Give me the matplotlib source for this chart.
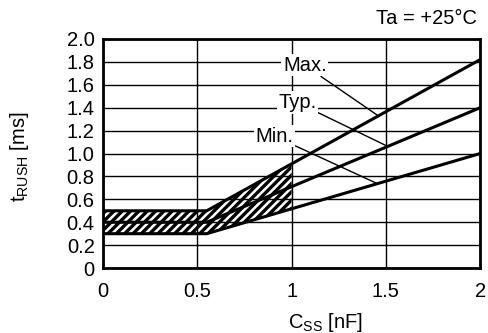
import numpy as np
import matplotlib
matplotlib.use('Agg')
import matplotlib.pyplot as plt

plt.rcParams['font.family'] = ['Liberation Sans', 'DejaVu Sans']
plt.rcParams['mathtext.fontset'] = 'custom'
plt.rcParams['mathtext.rm'] = 'Liberation Sans'
plt.rcParams['hatch.linewidth'] = 2.4

# Rush time vs soft-start capacitor
css_nf = [0, 0.55, 2.0]
t_max = [0.5, 0.5, 1.82]
t_typ = [0.4, 0.4, 1.4]
t_min = [0.3, 0.3, 1.0]

x_ticks = [0, 0.5, 1, 1.5, 2]
x_labels = ['0', '0.5', '1', '1.5', '2']
y_ticks = [0, 0.2, 0.4, 0.6, 0.8, 1.0, 1.2, 1.4, 1.6, 1.8, 2.0]
y_labels = ['0', '0.2', '0.4', '0.6', '0.8', '1.0', '1.2', '1.4', '1.6', '1.8', '2.0']

# hatched band ends at 1 nF
hatch_x = [0, 0.55, 1.0]

# label text and where its leader hits the curve
curve_labels = ['Max.', 'Typ.', 'Min.']
label_pos = [(1.07, 1.77), (1.03, 1.445), (0.91, 1.15)]
pointer_x = [1.46, 1.51, 1.455]

fs = 14.5

fig = plt.figure(figsize=(4.88, 3.33), dpi=100)
ax = fig.add_axes([0.211, 0.195, 0.773, 0.688])

hx = np.array(hatch_x)
h_max = np.interp(hx, css_nf, t_max)
h_typ = np.interp(hx, css_nf, t_typ)
h_min = np.interp(hx, css_nf, t_min)
ax.fill_between(hx, h_typ, h_max, facecolor='none', edgecolor='black', hatch='////', linewidth=0, zorder=1)
ax.fill_between(hx, h_min, h_typ, facecolor='none', edgecolor='black', hatch='////', linewidth=0, zorder=1)

ax.grid(True, color='black', linewidth=1.0, zorder=2)
ax.set_axisbelow(True)

for ys in [t_max, t_typ, t_min]:
    ax.plot(css_nf, ys, color='black', linewidth=2.2, zorder=3, solid_capstyle='butt')

for txt, pos, px, ys in zip(curve_labels, label_pos, pointer_x, [t_max, t_typ, t_min]):
    ax.annotate(txt, xy=(px, np.interp(px, css_nf, ys)), xytext=pos,
                ha='center', va='center', fontsize=fs, zorder=5,
                bbox=dict(boxstyle='square,pad=0.08', facecolor='white', edgecolor='none'),
                arrowprops=dict(arrowstyle='-', color='black', lw=1.0, shrinkA=0, shrinkB=0))

ax.set_xlim(0, 2)
ax.set_ylim(0, 2.0)
ax.set_xticks(x_ticks)
ax.set_xticklabels(x_labels)
ax.set_yticks(y_ticks)
ax.set_yticklabels(y_labels)
ax.tick_params(axis='both', length=0, labelsize=fs)
ax.tick_params(axis='x', pad=10)
ax.tick_params(axis='y', pad=6)
for sp in ax.spines.values():
    sp.set_linewidth(2.0)
    sp.set_zorder(6)

fig.text(325 / 488, 1 - 322 / 333, r'$\mathrm{C_{SS}}$ [nF]', ha='center', va='center', fontsize=fs)
fig.text(20 / 488, 1 - 157 / 333, r'$\mathrm{t_{RUSH}}$ [ms]', ha='center', va='center', rotation=90, fontsize=fs)
fig.text(477 / 488, 1 - 19 / 333, 'Ta = +25°C', ha='right', va='center', fontsize=fs)

fig.savefig('out.png', dpi=100)
